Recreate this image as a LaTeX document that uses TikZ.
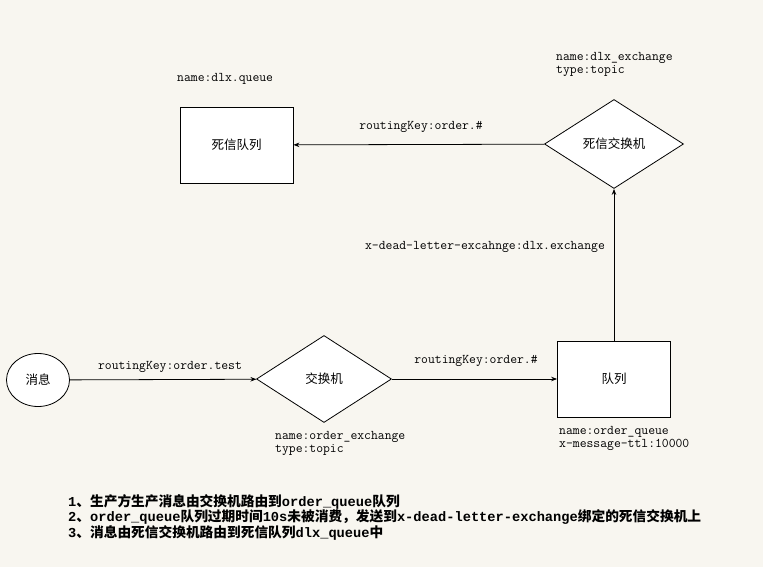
\documentclass[tikz,border=0pt]{standalone}
\usepackage{fontspec}
\newfontfamily\monob{Liberation Mono}
\newfontfamily\cjk{Noto Sans CJK SC}
\usetikzlibrary{shapes.geometric,arrows.meta}
\definecolor{bg}{HTML}{F8F6F0}
\newcommand{\zh}[1]{{\cjk #1}}
\begin{document}
\begin{tikzpicture}[x=1pt,y=-1pt,
  box/.style={draw, line width=0.8pt, fill=white, minimum width=113pt, minimum height=76pt, inner sep=0pt, font=\cjk\fontsize{12.5}{14}\selectfont},
  dia/.style={draw, diamond, line width=0.8pt, fill=white, inner sep=0pt, font=\cjk\fontsize{12.5}{14}\selectfont},
  lbl/.style={font=\ttfamily\fontsize{13.3}{13}\selectfont, inner sep=0pt, align=left},
  arr/.style={line width=0.8pt, -{Stealth[length=6pt,width=4.5pt]}},
  ]
\fill[bg] (0,0) rectangle (763,567);
\useasboundingbox (0,0) rectangle (763,567);

\node[draw, ellipse, line width=0.8pt, fill=white, minimum width=63pt, minimum height=53pt, inner sep=0pt, font=\cjk\fontsize{12.5}{14}\selectfont] (msg) at (38,380) {消息};
\node[dia, minimum width=135pt, minimum height=87pt, aspect=1.55] (ex) at (324,379) {交换机};
\node[box] (q) at (614,379) {队列};
\node[dia, minimum width=139pt, minimum height=89pt, aspect=1.56] (dlx) at (614,144) {死信交换机};
\node[box] (dq) at (236.5,145) {死信队列};

\draw[arr] (msg) -- (ex);
\draw[arr] (ex) -- (q);
\draw[arr] (q) -- (dlx);
\draw[arr] (dlx) -- (dq);

\node[lbl] (l1) at (170,367) {routingKey:order.test};
\node[lbl] (l2) at (476,361) {routingKey:order.\#};
\node[lbl] (l3) at (421,127) {routingKey:order.\#};
\node[lbl] (l4) at (485,247) {x-dead-letter-excahnge:dlx.exchange};
\node[lbl, anchor=west] (l5) at (177,79) {name:dlx.queue};
\node[lbl, anchor=north west] (l6) at (556,52) {name:dlx\_exchange\\type:topic};
\node[lbl, anchor=north west] (l7) at (275,431) {name:order\_exchange\\type:topic};
\node[lbl, anchor=north west] (l8) at (559,426) {name:order\_queue\\x-message-ttl:10000};

\node[inner sep=0pt, anchor=north west, align=left, font=\bfseries\monob\fontsize{13.7}{13.5}\selectfont] (notes) at (68,494)
{1\zh{、生产方生产消息由交换机路由到}order\_queue\zh{队列}\\
2\zh{、}order\_queue\zh{队列过期时间}10s\zh{未被消费，发送到}x-dead-letter-exchange\zh{绑定的死信交换机上}\\
3\zh{、消息由死信交换机路由到死信队列}dlx\_queue\zh{中}};
\end{tikzpicture}
\end{document}
